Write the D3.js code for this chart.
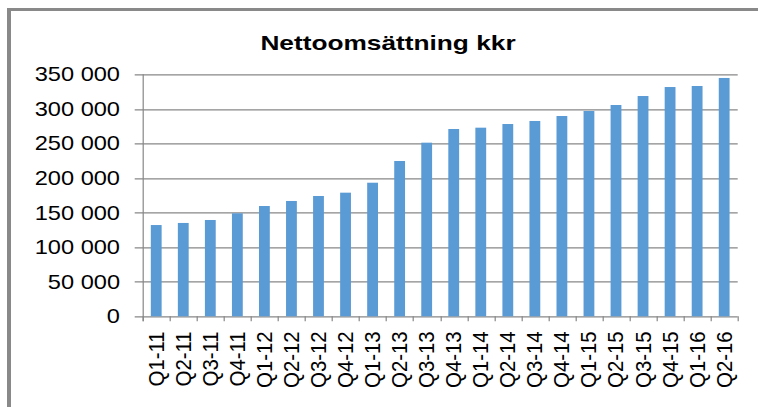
<!DOCTYPE html>
<html>
<head>
<meta charset="utf-8">
<script src="https://cdn.jsdelivr.net/npm/d3@7"></script>
<style>
  body { margin: 0; background: #fff; }
  svg { display: block; font-family: "Liberation Sans", Arial, sans-serif; }
</style>
</head>
<body>
<svg id="chart"></svg>
<script>
// Quarters and net sales (kkr)
const quarters = ["Q1-11", "Q2-11", "Q3-11", "Q4-11", "Q1-12", "Q2-12", "Q3-12", "Q4-12",
                  "Q1-13", "Q2-13", "Q3-13", "Q4-13", "Q1-14", "Q2-14", "Q3-14", "Q4-14",
                  "Q1-15", "Q2-15", "Q3-15", "Q4-15", "Q1-16", "Q2-16"];
const sales = [132000, 135000, 139300, 149000, 159500, 166800, 174000, 178800,
               193200, 224600, 251100, 270900, 272800, 278100, 282500, 289700,
               296900, 305600, 318600, 331600, 333100, 344700];
const yTicks = [0, 50000, 100000, 150000, 200000, 250000, 300000, 350000];
const chartTitle = "Nettoomsättning kkr";

const config = {
  width: 758, height: 407,
  margin: {top: 74.3, right: 20.3, bottom: 90.7, left: 142.7}
};

const innerW = config.width - config.margin.left - config.margin.right;
const innerH = config.height - config.margin.top - config.margin.bottom;

const svg = d3.select('#chart')
    .attr('width', config.width)
    .attr('height', config.height);

// outer frame (only top and left edges are visible in the picture)
svg.append('line')
    .attr('x1', 7).attr('x2', config.width).attr('y1', 9.5).attr('y2', 9.5)
    .attr('stroke', '#898989').attr('stroke-width', 3);
svg.append('line')
    .attr('x1', 9).attr('x2', 9).attr('y1', 8).attr('y2', config.height)
    .attr('stroke', '#898989').attr('stroke-width', 4);

const chart = svg.append('g')
    .attr('transform', `translate(${config.margin.left},${config.margin.top})`);

const xScale = d3.scaleBand()
    .domain(quarters)
    .range([0, innerW])
    .paddingInner(0.6)
    .paddingOuter(0.3);

const yScale = d3.scaleLinear()
    .domain([0, 350000])
    .range([innerH, 0]);

const fmt = d3.formatLocale({decimal: ",", thousands: " ", grouping: [3], currency: ["", ""]}).format(",");

// gridlines, extending past the axis as the tick marks
chart.append('g')
  .selectAll('line')
  .data(yTicks)
  .join('line')
    .attr('x1', -8).attr('x2', innerW)
    .attr('y1', d => Math.round(yScale(d)) + 0.5)
    .attr('y2', d => Math.round(yScale(d)) + 0.5)
    .attr('stroke', '#878787').attr('stroke-width', 1.2);

// y labels
chart.append('g')
  .selectAll('text')
  .data(yTicks)
  .join('text')
    .attr('transform', d => `translate(-22.7,${yScale(d)}) scale(1.18,1)`)
    .attr('text-anchor', 'end')
    .attr('dy', '0.35em')
    .attr('font-size', 20)
    .attr('fill', '#000')
    .text(d => fmt(d));

// bars
chart.selectAll('.bar')
  .data(quarters.map((q, i) => ({q, v: sales[i]})))
  .join('rect')
    .attr('class', 'bar')
    .attr('x', d => xScale(d.q))
    .attr('width', xScale.bandwidth())
    .attr('y', d => yScale(d.v))
    .attr('height', d => innerH - yScale(d.v))
    .attr('fill', '#5b9bd5');

// axis lines
chart.append('line')
    .attr('x1', 0.5).attr('x2', 0.5).attr('y1', 0).attr('y2', innerH + 5)
    .attr('stroke', '#878787').attr('stroke-width', 1.2);

const step = xScale.step();
chart.append('g')
  .selectAll('line')
  .data(d3.range(quarters.length + 1))
  .join('line')
    .attr('x1', i => Math.round(i * step) + 0.5)
    .attr('x2', i => Math.round(i * step) + 0.5)
    .attr('y1', innerH).attr('y2', innerH + 5)
    .attr('stroke', '#878787').attr('stroke-width', 1.2);

// x labels, rotated
chart.append('g')
  .selectAll('text')
  .data(quarters)
  .join('text')
    .attr('transform', d => `translate(${xScale(d) + xScale.bandwidth() / 2 + 7.5},${innerH + 15}) rotate(-90) scale(1.02,1.12)`)
    .attr('text-anchor', 'end')
    .attr('font-size', 20)
    .attr('fill', '#000')
    .text(d => d);

// title
svg.append('text')
    .attr('transform', 'translate(388,50) scale(1.25,1)')
    .attr('text-anchor', 'middle')
    .attr('font-size', 21)
    .attr('font-weight', 'bold')
    .attr('fill', '#000')
    .text(chartTitle);
</script>
</body>
</html>
